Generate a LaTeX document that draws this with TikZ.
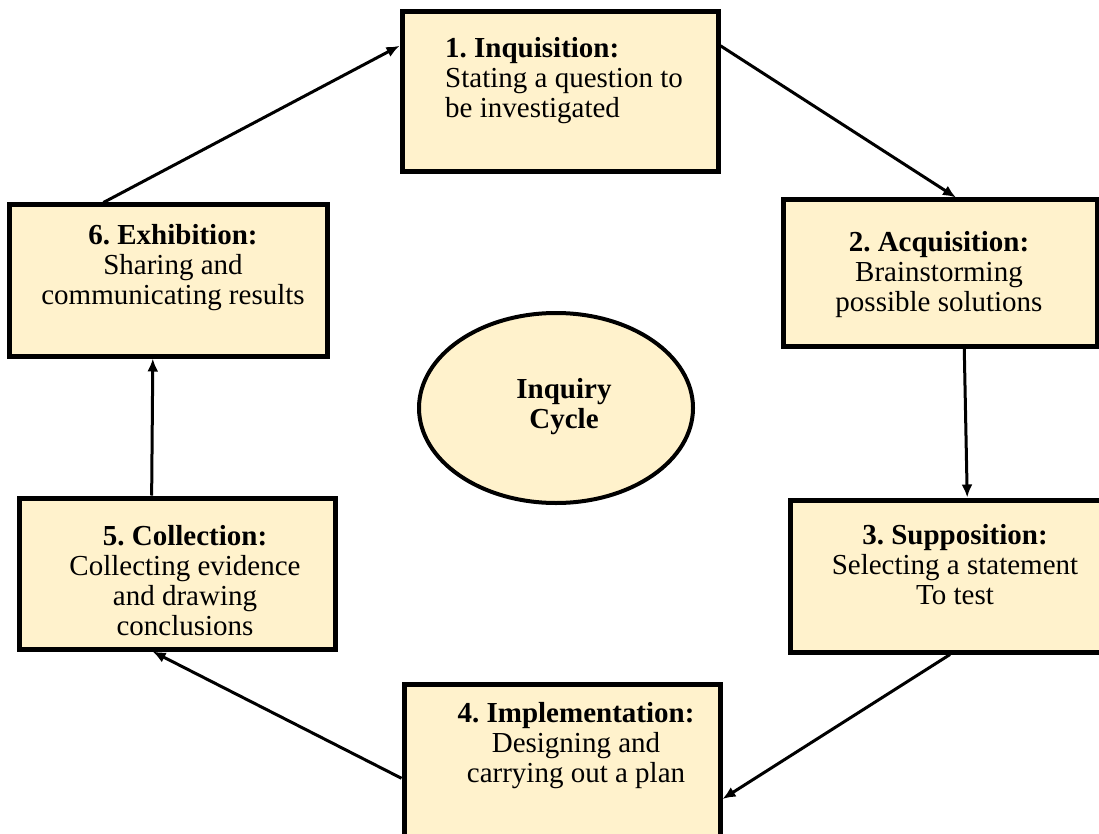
\documentclass[tikz,border=0pt]{standalone}
\usepackage{fontspec}
\setmainfont{Liberation Serif}
\frenchspacing
\usetikzlibrary{calc,arrows.meta,shapes.geometric}
\definecolor{cream}{RGB}{255,242,204}
\tikzset{
  stagebox/.style={draw=black, fill=cream, line width=5pt, rectangle, inner sep=0pt},
  stagetext/.style={anchor=north, inner sep=0pt, align=center, font=\fontsize{29}{30}\selectfont},
  flow/.style={line width=3pt, -{Latex[length=13pt,width=11pt]}}
}
\begin{document}
\begin{tikzpicture}[x=1pt,y=-1pt]
\useasboundingbox (0,0) rectangle (1099,834);
% boxes
\node[stagebox, minimum width=316pt, minimum height=160pt] (b1) at (560,92) {};
\node[stagebox, minimum width=314pt, minimum height=146pt] (b2) at (940,273) {};
\node[stagebox, minimum width=320pt, minimum height=152pt] (b3) at (950,576) {};
\node[stagebox, minimum width=316pt, minimum height=166pt] (b4) at (562,767) {};
\node[stagebox, minimum width=316pt, minimum height=151pt] (b5) at (177,573.5) {};
\node[stagebox, minimum width=318pt, minimum height=151pt] (b6) at (168,280.5) {};
\node[draw=black, fill=cream, line width=4pt, ellipse, minimum width=274pt, minimum height=190pt, inner sep=0pt] (ell) at (556,408) {};
% texts
\node[stagetext, anchor=north west, align=left] (t1) at (445,37) {\textbf{1. Inquisition:}\\Stating a question to\\be investigated};
\node[stagetext] (t2) at (939,231) {\textbf{2. Acquisition:}\\Brainstorming\\possible solutions};
\node[stagetext] (t3) at (955,524) {\textbf{3. Supposition:}\\Selecting a statement\\To test};
\node[stagetext] (t4) at (576,702) {\textbf{4. Implementation:}\\Designing and\\carrying out a plan};
\node[stagetext] (t5) at (185,525) {\textbf{5. Collection:}\\Collecting evidence\\and drawing\\conclusions};
\node[stagetext] (t6) at (173,224) {\textbf{6. Exhibition:}\\Sharing and\\communicating results};
\node[stagetext] (tc) at (564,378) {\textbf{Inquiry}\\\textbf{Cycle}};
% arrows
\draw[flow] ($(b6.north west)!0.30!(b6.north east)$) -- ($(b1.north west)!0.22!(b1.south west)$);
\draw[flow] ($(b1.north east)!0.22!(b1.south east)$) -- ($(b2.north west)!0.55!(b2.north east)$);
\draw[flow] ($(b2.south west)!0.576!(b2.south east)$) -- ($(b3.north west)!0.553!(b3.north east)$);
\draw[flow] ($(b3.south west)!0.5!(b3.south east)$) -- ($(b4.north east)!0.687!(b4.south east)$);
\draw[flow] ($(b4.north west)!0.566!(b4.south west)$) -- ($(b5.south west)!0.424!(b5.south east)$);
\draw[flow] ($(b5.north west)!0.421!(b5.north east)$) -- ($(b6.south west)!0.453!(b6.south east)$);
\end{tikzpicture}
\end{document}
